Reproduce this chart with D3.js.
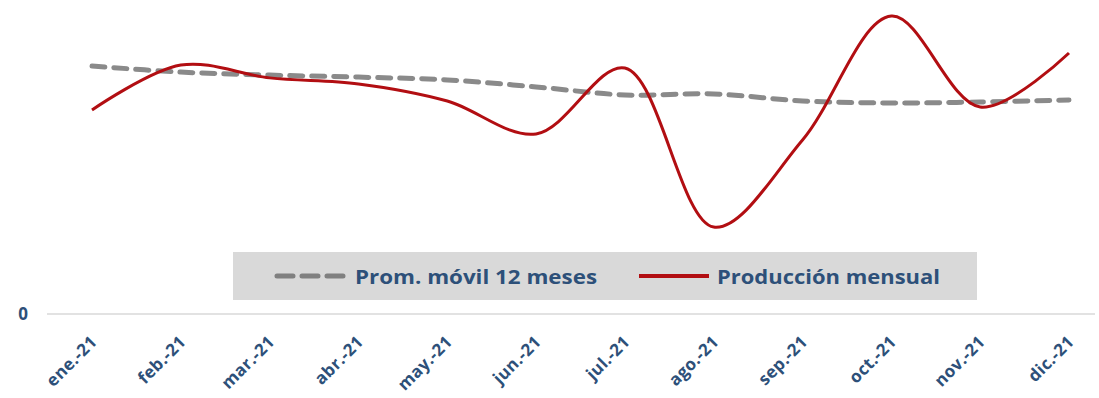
<!DOCTYPE html>
<html><head><meta charset="utf-8">
<script src="https://cdn.jsdelivr.net/npm/d3@7"></script>
<style>body{margin:0;background:#fff}svg{display:block}</style>
</head><body>
<svg id="c" width="1099" height="398"></svg>
<script>
const months = ["ene.-21","feb.-21","mar.-21","abr.-21","may.-21","jun.-21","jul.-21","ago.-21","sep.-21","oct.-21","nov.-21","dic.-21"];
const produccion = [81.2, 99.1, 94.0, 91.6, 84.8, 71.7, 97.9, 34.6, 69.3, 118.6, 82.4, 103.9];
const promMovil = [98.7, 96.3, 95.1, 94.3, 93.2, 90.4, 87.2, 87.6, 84.8, 84.0, 84.4, 85.2];
const yTicks = [0];
const legendLabels = ["Prom. móvil 12 meses", "Producción mensual"];

const svg = d3.select("#c");
const font = "'Open Sans', sans-serif";
const textColor = "#2d5079";

const x = d3.scalePoint().domain(months).range([92, 1069]);
const y = d3.scaleLinear().domain([0, 125]).range([314, 0]);

// baseline
svg.append("line").attr("x1", 47).attr("x2", 1095).attr("y1", y(0)).attr("y2", y(0))
  .attr("stroke", "#d9d9d9").attr("stroke-width", 1.3);

// y tick label
svg.selectAll(".yt").data(yTicks).join("text")
  .attr("x", 28).attr("y", d => y(d) + 6).attr("text-anchor", "end")
  .attr("font-family", font).attr("font-weight", 700).attr("font-size", 17)
  .attr("fill", textColor).text(d => d);

// x labels
svg.selectAll(".xl").data(months).join("text")
  .attr("transform", d => `translate(${x(d) + 6},${343}) rotate(-45)`)
  .attr("text-anchor", "end")
  .attr("font-family", font).attr("font-weight", 700).attr("font-size", 17)
  .attr("letter-spacing", 0.3)
  .attr("fill", textColor).text(d => d);

// legend
svg.append("rect").attr("x", 233).attr("y", 252).attr("width", 744).attr("height", 48).attr("fill", "#d9d9d9");
svg.append("line").attr("x1", 277).attr("x2", 345).attr("y1", 276).attr("y2", 276)
  .attr("stroke", "#808080").attr("stroke-width", 5).attr("stroke-dasharray", "16,9").attr("stroke-linecap","round");
svg.append("text").attr("x", 355).attr("y", 284).attr("font-family", font).attr("font-weight", 700)
  .attr("font-size", 20).attr("fill", textColor).attr("textLength", 242).attr("lengthAdjust", "spacingAndGlyphs")
  .text(legendLabels[0]);
svg.append("line").attr("x1", 639).attr("x2", 709).attr("y1", 276).attr("y2", 276)
  .attr("stroke", "#b20e12").attr("stroke-width", 4);
svg.append("text").attr("x", 717).attr("y", 284).attr("font-family", font).attr("font-weight", 700)
  .attr("font-size", 20).attr("fill", textColor).attr("textLength", 223).attr("lengthAdjust", "spacingAndGlyphs")
  .text(legendLabels[1]);

const line = d3.line().x((d, i) => x(months[i])).y(d => y(d)).curve(d3.curveCatmullRom.alpha(0.5));

svg.append("path").datum(promMovil).attr("d", line).attr("fill", "none")
  .attr("stroke", "#8a8a8a").attr("stroke-width", 5).attr("stroke-dasharray", "13,9").attr("stroke-linecap","round");
svg.append("path").datum(produccion).attr("d", line).attr("fill", "none")
  .attr("stroke", "#b20e12").attr("stroke-width", 3);
</script>
</body></html>
